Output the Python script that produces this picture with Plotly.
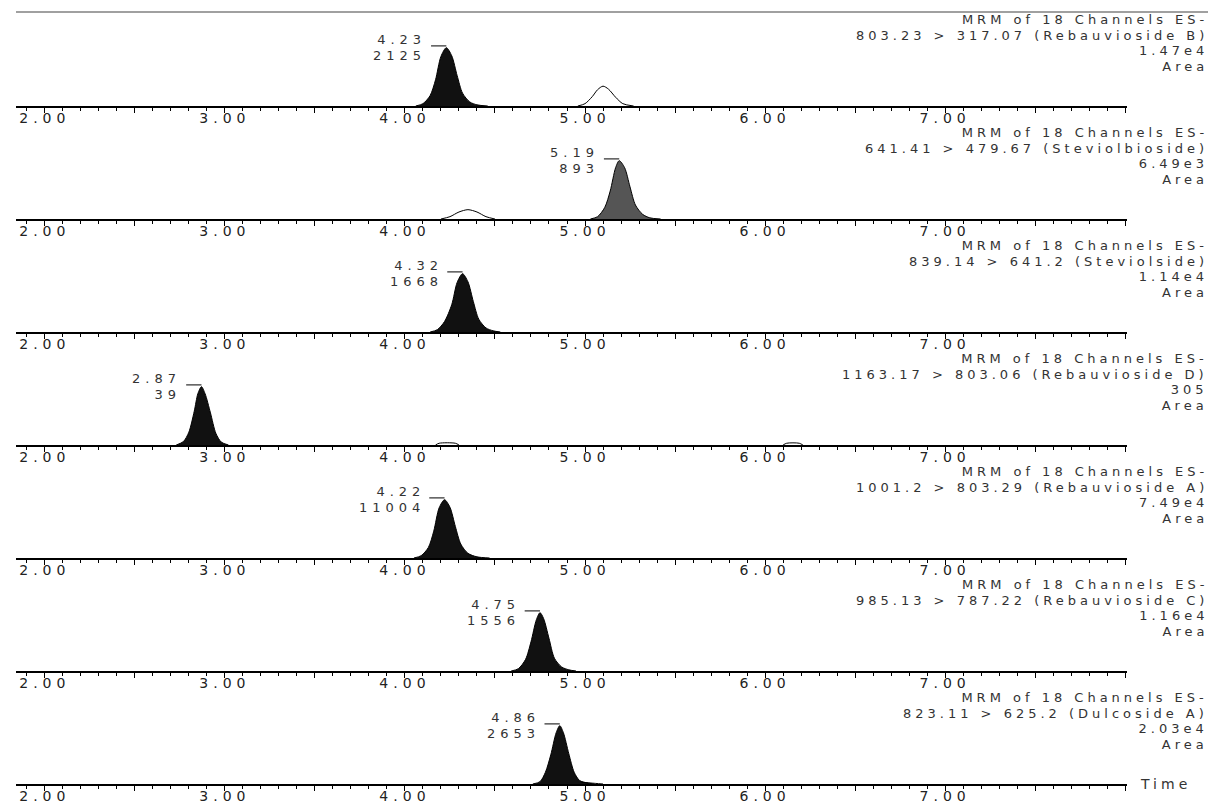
import plotly.graph_objects as go

# ---------------- data ----------------
header = "MRM of 18 Channels ES-"
channels = [
    "803.23 > 317.07 (Rebauvioside B)",
    "641.41 > 479.67 (Steviolbioside)",
    "839.14 > 641.2 (Steviolside)",
    "1163.17 > 803.06 (Rebauvioside D)",
    "1001.2 > 803.29 (Rebauvioside A)",
    "985.13 > 787.22 (Rebauvioside C)",
    "823.11 > 625.2 (Dulcoside A)",
]
max_intensity_labels = ["1.47e4", "6.49e3", "1.14e4", "305", "7.49e4", "1.16e4", "2.03e4"]
peak_rt = [4.23, 5.19, 4.32, 2.87, 4.22, 4.75, 4.86]
peak_rt_labels = ["4.23", "5.19", "4.32", "2.87", "4.22", "4.75", "4.86"]
peak_area_labels = ["2125", "893", "1668", "39", "11004", "1556", "2653"]
peak_height_pct = [100, 100, 100, 100, 100, 100, 100]

# main (integrated, filled) peak profiles: time (min) and relative intensity (%)
main_t = [
    [4.06, 4.10, 4.14, 4.17, 4.20, 4.23, 4.26, 4.29, 4.32, 4.36, 4.40, 4.46],
    [5.03, 5.07, 5.11, 5.14, 5.17, 5.19, 5.22, 5.25, 5.28, 5.32, 5.36, 5.42],
    [4.14, 4.18, 4.22, 4.26, 4.29, 4.32, 4.35, 4.38, 4.41, 4.45, 4.49, 4.53],
    [2.73, 2.77, 2.80, 2.83, 2.85, 2.87, 2.89, 2.92, 2.95, 2.98, 3.02],
    [4.05, 4.09, 4.13, 4.16, 4.19, 4.22, 4.25, 4.28, 4.31, 4.35, 4.40, 4.47],
    [4.59, 4.63, 4.67, 4.70, 4.73, 4.75, 4.77, 4.80, 4.83, 4.87, 4.91, 4.95],
    [4.71, 4.75, 4.78, 4.81, 4.84, 4.86, 4.88, 4.91, 4.94, 4.97, 5.01, 5.05],
]
main_i = [
    [0, 4, 18, 45, 85, 100, 86, 52, 22, 7, 2, 0],
    [0, 4, 20, 48, 88, 100, 88, 55, 24, 8, 2, 0],
    [0, 4, 18, 47, 85, 100, 86, 52, 22, 7, 2, 0],
    [0, 6, 22, 58, 88, 100, 88, 55, 20, 5, 0],
    [0, 4, 18, 46, 86, 100, 87, 54, 24, 8, 2, 0],
    [0, 4, 20, 50, 88, 100, 90, 56, 22, 7, 2, 0],
    [0, 4, 20, 50, 88, 100, 88, 52, 20, 6, 2, 0],
]
main_fill = ["#111111", "#555555", "#111111", "#111111", "#111111", "#111111", "#111111"]

# secondary (unintegrated, outline only) peaks: panel index, time, intensity (%)
minor_panel = [0, 1, 3, 3, 6]
minor_t = [
    [4.96, 5.00, 5.04, 5.07, 5.10, 5.13, 5.17, 5.21, 5.27],
    [4.20, 4.25, 4.30, 4.35, 4.40, 4.45, 4.50],
    [4.17, 4.19, 4.28, 4.30],
    [6.10, 6.12, 6.19, 6.21],
    [4.98, 5.02, 5.06, 5.10],
]
minor_i = [
    [0, 4, 16, 28, 34, 29, 15, 4, 0],
    [0, 4, 12, 16, 12, 4, 0],
    [0, 3, 3, 0],
    [0, 3, 3, 0],
    [3, 2, 1, 0],
]

x_range = [1.84, 8.01]
tick_major = [2.0, 2.5, 3.0, 3.5, 4.0, 4.5, 5.0, 5.5, 6.0, 6.5, 7.0, 7.5, 8.0]
tick_major_text = ["2.00", "", "3.00", "", "4.00", "", "5.00", "", "6.00", "", "7.00", "", ""]

# ---------------- layout geometry (pixels) ----------------
W, H = 1208, 806
X0, X1 = 16, 1127
BASE0, STEP, PANEL_H = 106, 113, 70
Y_TOP = 120.0  # % at top of each panel

FONT = "DejaVu Sans"
TXT = "#333333"


def px_y(p):
    return 1 - p / H


def wide(s, size=None, spacing=4):
    # the reference glyphs are horizontally stretched; widen with letter spacing
    st = "letter-spacing:%dpx" % spacing
    if size:
        st += ";font-size:%dpx" % size
    return '<span style="%s">%s</span>' % (st, s)


def stacked(lines, size, spacing):
    # one text block; the annotation's own font sets the line pitch
    return "<br>".join(wide(s, size, spacing) for s in lines)


fig = go.Figure()
annotations = []
shapes = []
n = len(channels)

for k in range(n):
    ax = "" if k == 0 else str(k + 1)
    base = BASE0 + STEP * k
    fig.add_trace(go.Scatter(
        x=main_t[k], y=main_i[k], mode="lines", line=dict(color="#000000", width=1, shape="spline", smoothing=0.8),
        fill="tozeroy", fillcolor=main_fill[k], xaxis="x" + ax, yaxis="y" + ax, showlegend=False,
        hoverinfo="skip"))
    fig.layout["xaxis" + ax] = dict(
        domain=[X0 / W, X1 / W], range=x_range, anchor="y" + ax,
        showline=True, linecolor="#000000", linewidth=2, showgrid=False, zeroline=False,
        ticks="outside", ticklen=5, tickwidth=1, tickcolor="#000000",
        tickvals=tick_major, ticktext=[wide(t, spacing=5) if t else t for t in tick_major_text],
        ticklabelstandoff=-7,
        tickfont=dict(family=FONT, size=14, color="#222222"),
        minor=dict(dtick=0.1, tick0=0, ticks="outside", ticklen=3, tickwidth=1, tickcolor="#000000", showgrid=False),
        fixedrange=True,
    )
    fig.layout["yaxis" + ax] = dict(
        domain=[px_y(base), px_y(base - PANEL_H)], range=[0, Y_TOP], visible=False, fixedrange=True,
    )
    # channel description (right), 4 lines
    annotations.append(dict(
        text=stacked([header, channels[k], max_intensity_labels[k], "Area"], 13, 4),
        xref="paper", yref="paper", x=1210 / W, y=px_y(base - 63),
        xanchor="right", yanchor="middle", align="right", showarrow=False,
        font=dict(family=FONT, size=12, color=TXT)))
    # peak labels (retention time over area)
    annotations.append(dict(
        text=stacked([peak_rt_labels[k], peak_area_labels[k]], 13, 5),
        xref="x" + ax, yref="y" + ax, x=peak_rt[k], y=peak_height_pct[k],
        xshift=-18, yshift=0, xanchor="right", yanchor="middle", align="right", showarrow=False,
        font=dict(family=FONT, size=12, color=TXT)))
    shapes.append(dict(
        type="line", xref="x" + ax, yref="y" + ax, x0=peak_rt[k] - 0.085, x1=peak_rt[k],
        y0=peak_height_pct[k] + 3, y1=peak_height_pct[k] + 3, line=dict(color="#000000", width=1)))

for p, t, v in zip(minor_panel, minor_t, minor_i):
    ax = "" if p == 0 else str(p + 1)
    fig.add_trace(go.Scatter(
        x=t, y=v, mode="lines", line=dict(color="#000000", width=1, shape="spline", smoothing=0.8),
        xaxis="x" + ax, yaxis="y" + ax, showlegend=False, hoverinfo="skip"))

# top frame line
shapes.append(dict(type="line", xref="paper", yref="paper", x0=X0 / W, x1=1, y0=px_y(12), y1=px_y(12),
                   line=dict(color="#808080", width=1.5)))
# axis title
annotations.append(dict(text=wide("Time", 14), xref="paper", yref="paper", x=1138 / W,
                        y=px_y(BASE0 + STEP * (n - 1)), xanchor="left", yanchor="middle",
                        showarrow=False, font=dict(family=FONT, size=14, color=TXT)))

fig.update_layout(
    width=W, height=H, margin=dict(l=0, r=0, t=0, b=0),
    paper_bgcolor="#ffffff", plot_bgcolor="#ffffff",
    annotations=annotations, shapes=shapes, showlegend=False,
)

fig.write_html("out.html", config={"displayModeBar": False},
               post_script="document.body.style.margin='0';document.body.style.overflow='hidden';")
